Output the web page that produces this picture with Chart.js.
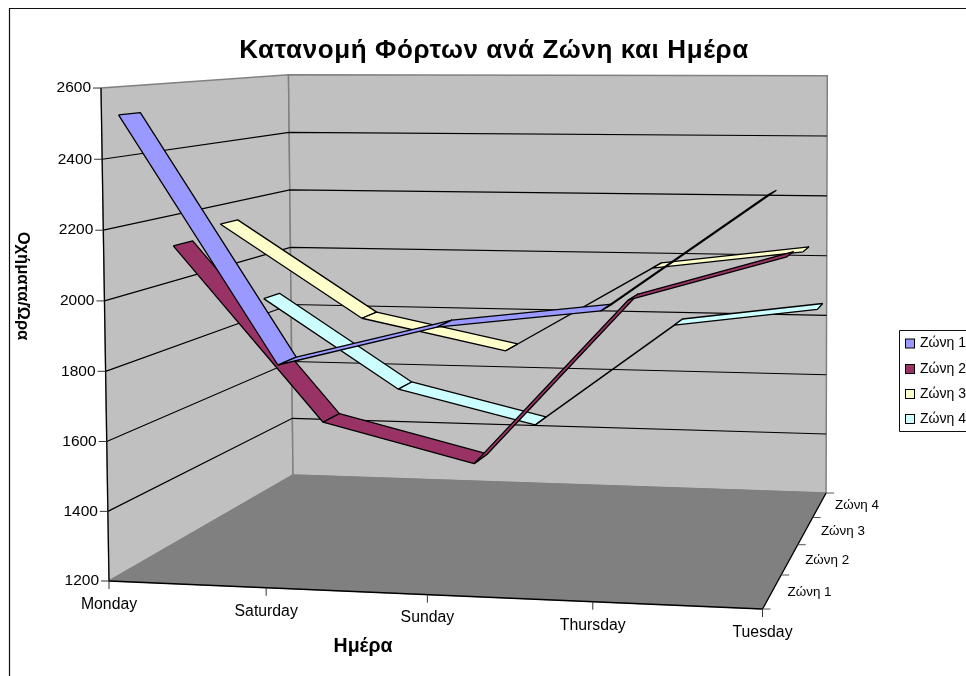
<!DOCTYPE html>
<html><head><meta charset="utf-8">
<style>html,body{margin:0;padding:0;background:#fff;overflow:hidden}canvas{display:block}</style>
<script src="https://cdn.jsdelivr.net/npm/chart.js@4/dist/chart.umd.min.js"></script>
</head><body>
<canvas id="c" width="966" height="676" style="width:966px;height:676px"></canvas>
<script>
const days = ['Monday','Saturday','Sunday','Thursday','Tuesday'];
const zones = ['Ζώνη 1','Ζώνη 2','Ζώνη 3','Ζώνη 4'];
const zone1 = [2520,1812,1930,1985,2313];
const zone2 = [2107,1581,1470,1968,2103];
const zone3 = [2139,1846,1753,2021,2079];
const zone4 = [1853,1558,1451,1793,1854];
const zoneFill = ['#9999FF','#993366','#FFFFCC','#CCFFFF'];
const loadMin = 1200, loadMax = 2600, loadStep = 200;
const titleText = 'Κατανομή Φόρτων ανά Ζώνη και Ημέρα';
const xTitle = 'Ημέρα', yTitle = 'Οχήματα/Ώρα';

// camera of the 3-D box: day (u), zone depth (w), load (v), each 0..1
const camX = [615.4, 252, -9.3, 109], camY = [-2.45, 4.2, -494.1, 581], camW = [-0.05, 0.232, -0.013, 1];
function project(u, w, v) {
  const d = camW[0]*u + camW[1]*w + camW[2]*v + camW[3];
  return { x: (camX[0]*u + camX[1]*w + camX[2]*v + camX[3]) / d,
           y: (camY[0]*u + camY[1]*w + camY[2]*v + camY[3]) / d };
}
const ribbonHalf = 0.05;
const uOf = i => i / (days.length - 1);
const vOf = val => (val - loadMin) / (loadMax - loadMin);

const series = [zone1, zone2, zone3, zone4];
const datasets = [];
let order = 0;
// nearest zone is painted last, so it comes first with the lowest order
series.forEach((vals, z) => {
  const wc = (z + 0.5) / zones.length;
  for (let i = vals.length - 2; i >= 0; i--) {
    const a = project(uOf(i), wc - ribbonHalf, vOf(vals[i]));
    const b = project(uOf(i + 1), wc - ribbonHalf, vOf(vals[i + 1]));
    const c = project(uOf(i + 1), wc + ribbonHalf, vOf(vals[i + 1]));
    const d = project(uOf(i), wc + ribbonHalf, vOf(vals[i]));
    datasets.push({
      label: zones[z], data: [a, b, c, d, a], order: order++,
      showLine: true, fill: 'shape', backgroundColor: zoneFill[z],
      borderColor: '#000', borderWidth: 1.3, borderJoinStyle: 'bevel',
      pointRadius: 0, pointHoverRadius: 0, tension: 0
    });
  }
});

function poly(ctx, pts, fill, stroke, lw) {
  ctx.beginPath();
  pts.forEach((p, i) => i ? ctx.lineTo(p.x, p.y) : ctx.moveTo(p.x, p.y));
  ctx.closePath();
  if (fill) { ctx.fillStyle = fill; ctx.fill(); }
  if (stroke) { ctx.strokeStyle = stroke; ctx.lineWidth = lw || 1; ctx.stroke(); }
}
function seg(ctx, a, b, color, lw) {
  ctx.beginPath(); ctx.moveTo(a.x, a.y); ctx.lineTo(b.x, b.y);
  ctx.strokeStyle = color; ctx.lineWidth = lw || 1; ctx.stroke();
}
function label(ctx, s, x, y, font, align) {
  ctx.font = font; ctx.fillStyle = '#000'; ctx.textAlign = align || 'center'; ctx.textBaseline = 'middle';
  ctx.fillText(s, x, y);
}
const FONT = '"Liberation Sans", Arial, sans-serif';

const box3d = {
  id: 'box3d',
  beforeDatasetsDraw(chart) {
    const ctx = chart.ctx; ctx.save();
    const p000 = project(0,0,0), p100 = project(1,0,0), p010 = project(0,1,0), p110 = project(1,1,0),
          p001 = project(0,0,1), p011 = project(0,1,1), p111 = project(1,1,1);
    poly(ctx, [p000,p010,p011,p001], '#C0C0C0', '#808080', 1.5);
    poly(ctx, [p010,p110,p111,p011], '#C0C0C0', '#808080', 1.5);
    poly(ctx, [p000,p100,p110,p010], '#808080', '#808080', 1);
    chart.scales.load.ticks.forEach(t => {
      const v = vOf(t.value);
      if (v <= 0 || v >= 1) return;
      const a = project(0,0,v), b = project(0,1,v), c = project(1,1,v);
      ctx.beginPath(); ctx.moveTo(a.x,a.y); ctx.lineTo(b.x,b.y); ctx.lineTo(c.x,c.y);
      ctx.strokeStyle = '#000'; ctx.lineWidth = 1.2; ctx.stroke();
    });
    seg(ctx, p000, p001, '#000', 1.2);
    seg(ctx, p000, p100, '#000', 1.3);
    seg(ctx, p100, p110, '#000', 1.3);
    ctx.restore();
  },
  afterDatasetsDraw(chart) {
    const ctx = chart.ctx; ctx.save();
    // frame
    ctx.beginPath(); ctx.moveTo(9.5, 676); ctx.lineTo(9.5, 8.5); ctx.lineTo(966, 8.5);
    ctx.strokeStyle = '#111'; ctx.lineWidth = 1.2; ctx.stroke();
    // load axis
    chart.scales.load.ticks.forEach(t => {
      const p = project(0,0,vOf(t.value));
      seg(ctx, {x:p.x-8,y:p.y}, p, '#333');
      label(ctx, String(t.value), p.x-10, p.y, '15.5px '+FONT, 'right');
    });
    // day axis
    days.forEach((d, i) => {
      const p = project(uOf(i),0,0);
      seg(ctx, p, {x:p.x,y:p.y+8}, '#333');
      label(ctx, d, p.x, p.y+23.5, '15.8px '+FONT);
    });
    // zone axis
    for (let i = 0; i <= zones.length; i++) {
      const p = project(1,i/zones.length,0);
      seg(ctx, p, {x:p.x+8,y:p.y}, '#555');
    }
    zones.forEach((z, i) => {
      const p = project(1,(i+0.5)/zones.length,0);
      label(ctx, z, p.x+15.5, p.y+0.5, '13.4px '+FONT, 'left');
    });
    // titles
    ctx.letterSpacing = '0.6px';
    label(ctx, titleText, 494, 51, 'bold 26px '+FONT);
    ctx.letterSpacing = '0px';
    label(ctx, xTitle, 363, 647, 'bold 19.5px '+FONT);
    ctx.save(); ctx.translate(23, 286); ctx.rotate(Math.PI/2);
    label(ctx, yTitle, 0, 0, 'bold 16.5px '+FONT); ctx.restore();
    // legend
    ctx.beginPath(); ctx.moveTo(966, 330.5); ctx.lineTo(899.5, 330.5); ctx.lineTo(899.5, 431.5); ctx.lineTo(966, 431.5);
    ctx.strokeStyle = '#111'; ctx.lineWidth = 1; ctx.stroke();
    const legendRows = [343.5, 369, 394, 419];
    zones.forEach((z, i) => {
      const y = legendRows[i];
      ctx.fillStyle = zoneFill[i]; ctx.fillRect(905.5, y-4.5, 9, 9);
      ctx.strokeStyle = '#000'; ctx.strokeRect(905.5, y-4.5, 9, 9);
      label(ctx, z, 920, y, '14px '+FONT, 'left');
    });
    ctx.restore();
  }
};

new Chart(document.getElementById('c'), {
  type: 'scatter',
  data: { datasets },
  plugins: [box3d],
  options: {
    responsive: false, animation: false, devicePixelRatio: 1,
    layout: { padding: 0 },
    plugins: { legend: { display: false }, tooltip: { enabled: false }, title: { display: false } },
    scales: {
      x: { type: 'linear', min: 0, max: 966, display: false },
      y: { type: 'linear', min: 0, max: 676, reverse: true, display: false },
      load: { type: 'linear', axis: 'y', min: loadMin, max: loadMax, ticks: { stepSize: loadStep }, display: false },
      day: { type: 'category', axis: 'x', labels: days, display: false },
      zone: { type: 'category', axis: 'x', labels: zones, display: false }
    }
  }
});
</script>
</body></html>
